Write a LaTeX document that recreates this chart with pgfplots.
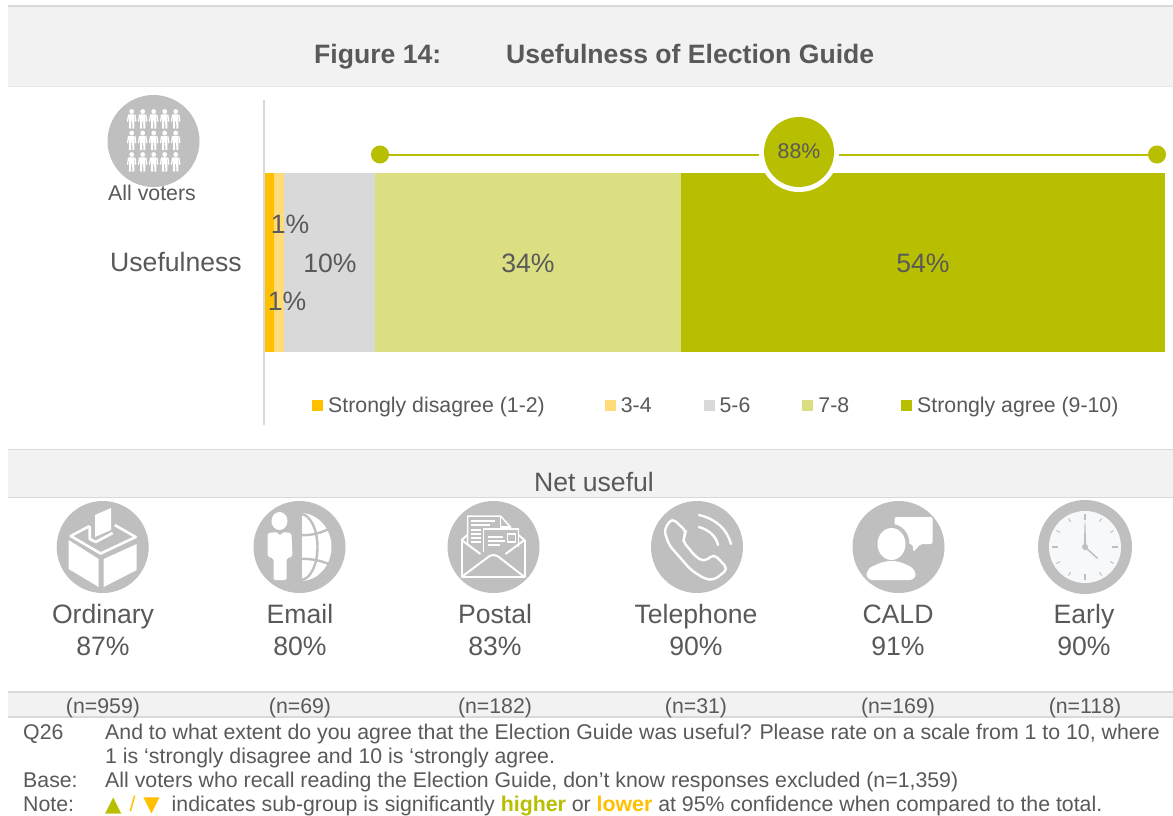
\documentclass[border=0pt]{standalone}
\usepackage{fontspec}
\setmainfont{Liberation Sans}
\newfontfamily\symf{DejaVu Sans}
\usepackage{pgfplots}
\pgfplotsset{compat=1.18}
\definecolor{txt}{HTML}{595959}
\definecolor{olive}{HTML}{B8BF00}
\definecolor{lolive}{HTML}{DBDF82}
\definecolor{orng}{HTML}{FFC000}
\definecolor{lorng}{HTML}{FFDB7A}
\definecolor{gr}{HTML}{D9D9D9}
\definecolor{band}{HTML}{F2F2F2}
\definecolor{icon}{HTML}{BFBFBF}
\definecolor{face}{HTML}{F7F8FA}
\newcommand{\fl}{\fontsize{26.6}{30}\selectfont}
\newcommand{\fm}{\fontsize{21.3}{25}\selectfont}
\pgfplotsset{overlay/.style={
  at={(0pt,-813pt)},anchor=south west,scale only axis,width=1173pt,height=813pt,
  xmin=0,xmax=1173,ymin=0,ymax=813,y dir=reverse,hide axis,clip=false}}
\pgfplotsset{lab/.style={draw=none,mark=none,point meta=explicit symbolic,
  nodes near coords,
  nodes near coords style={anchor=base,inner sep=0pt,text=txt,font=#1}}}
\begin{document}
\begin{tikzpicture}[x=1pt,y=-1pt]
\fill[white] (0,0) rectangle (1173,813);
% bands
\fill[band] (8,6) rectangle (1173,86);
\fill[gr] (8,5) rectangle (1173,7);
\fill[gr!60] (8,85.5) rectangle (1173,86.5);
\fill[band] (8,449) rectangle (1173,497);
\fill[gr] (8,448.5) rectangle (1173,450);
\fill[gr] (8,496.5) rectangle (1173,498);
\fill[band] (8,692) rectangle (1173,717);
\fill[gr] (8,691) rectangle (1173,693);
\fill[gr] (8,716) rectangle (1173,718);
\node[anchor=base west,inner sep=0pt,text=txt,font=\fl\bfseries] at (314,63) {Figure 14:};
\node[anchor=base west,inner sep=0pt,text=txt,font=\fl\bfseries] at (506,63) {Usefulness of Election Guide};
% main stacked bar
\begin{axis}[
  at={(264pt,-425pt)},anchor=south west,scale only axis,width=901pt,height=325pt,
  xbar stacked,bar width=179pt,bar shift=0pt,
  xmin=-0.1111,xmax=100,ymin=-1,ymax=1,
  axis x line=none,axis y line=left,
  axis line style={gr,line width=2pt,-},
  ytick={0},yticklabels={Usefulness},major tick length=0pt,
  yticklabel style={text=txt,font=\fl,inner sep=0pt,xshift=-22pt,yshift=1pt},
  legend columns=-1,
  legend style={at={(0.0535,0.0585)},anchor=west,draw=none,fill=none,
    font=\fm,text=txt,inner sep=0pt,outer sep=0pt,
    /tikz/every even column/.append style={column sep=50pt}},
  legend cell align=left,
  legend image code/.code={\path[#1,draw=none] (0pt,-5.5pt) rectangle (11pt,5.5pt);\path (14pt,0pt);},
]
\addplot[fill=orng,draw=none] coordinates {(1.0,0)};
\addplot[fill=lorng,draw=none] coordinates {(1.1,0)};
\addplot[fill=gr,draw=none] coordinates {(10.1,0)};
\addplot[fill=lolive,draw=none] coordinates {(34,0)};
\addplot[fill=olive,draw=none] coordinates {(53.8,0)};
\legend{Strongly disagree (1-2)\rule{8pt}{0pt},3-4,5-6,7-8,Strongly agree (9-10)}
\end{axis}
% bracket
\begin{axis}[overlay]
\addplot[olive,line width=2pt,mark=*,mark size=8pt,mark options={fill=olive,draw=none}] coordinates {(380,154.5) (1157,154.5)};
\end{axis}
\fill[white] (799,152) circle (40);
\fill[olive] (799,152) circle (35);
\node[text=txt,font=\fm,inner sep=0pt] at (799,151) {88\%};
% people icon
\fill[icon] (153.5,141) circle (46);
\foreach \cx in {131.7,142.7,153.7,164.7,175.7}
 \foreach \cy in {119,140.5,162}{
  \begin{scope}[shift={(\cx,\cy)}]
  \fill[white] (0,-7.5) circle (2.4);
  \fill[white] (-2.8,-4.6) -- (2.8,-4.6) -- (2.6,2) -- (-2.6,2) -- cycle;
  \draw[white,line width=1.3pt,line cap=round] (-3.2,-4) -- (-4.1,2.2) (3.2,-4) -- (4.1,2.2);
  \draw[white,line width=2.1pt] (-1.5,1) -- (-1.7,9.5) (1.5,1) -- (1.7,9.5);
  \end{scope}}
% ballot box
\begin{scope}[shift={(102.7,547)}]
\fill[icon] (0,0) circle (46);
\fill[white] (-34,-7) -- (-4,12) -- (-4,40) -- (-34,22) -- cycle;
\fill[white] (1,12) -- (34,-3) -- (34,23) -- (1,40) -- cycle;
\fill[white] (-7.7,-32) -- (8.3,-39) -- (8.3,-17) -- (-7.7,-10) -- cycle;
\draw[white,line width=2.6pt,line join=round] (-13,-21) -- (-32,-11) -- (-2,6.5) -- (33,-10) -- (12,-22);
\draw[white,line width=2.6pt,line join=round] (-13,-21) -- (-13,-8) -- (-7,-5) -- (10,-14);
\end{scope}
% email: person + globe
\begin{scope}[shift={(299.5,547)}]
\fill[icon] (0,0) circle (46);
\fill[white] (-20,-26) ellipse (8 and 9);
\fill[white,rounded corners=2pt] (-32,-14) -- (-22,-15) -- (-19.5,-11) -- (-17,-15) -- (-8,-14) -- (-7,10) -- (-13,11) -- (-13,33) -- (-26,33) -- (-26,11) -- (-32,10) -- cycle;
\fill[white] (1,-34) arc (-90:90:31 and 34) -- cycle;
\begin{scope}
\clip (1,-36) rectangle (36,36);
\draw[icon,line width=2.4pt] (1,0) ellipse (17 and 33);
\draw[icon,line width=2.4pt] (-2,-12) .. controls (12,-11) and (24,-14) .. (36,-22);
\draw[icon,line width=2.4pt] (-2,12) .. controls (12,11) and (24,14) .. (36,20);
\end{scope}
\fill[icon] (-1,-36) rectangle (2,36);
\end{scope}
% postal
\begin{scope}[shift={(493.5,547)},line join=round]
\fill[icon] (0,0) circle (46);
\draw[white,line width=1.5pt] (-26,-2) -- (-26,-31) -- (7,-31) -- (17,-20) -- (17,-18);
\draw[white,line width=1.5pt] (7,-31) -- (7,-20) -- (17,-20);
\draw[white,line width=1.5pt] (-23,-26) -- (1,-26) (-23,-22) -- (-4,-22);
\draw[white,line width=1.5pt] (-23,-17) -- (-13,-17) (-23,-13) -- (-13,-13) (-23,-9) -- (-13,-9) (-23,-5) -- (-13,-5);
\draw[white,line width=1.5pt] (-10,5) -- (-10,-18) -- (25,-18) -- (25,0);
\draw[white,line width=1.5pt] (14,-13) rectangle (22,-5);
\draw[white,line width=1.5pt] (-6,-10) -- (9,-10) (-6,-6) -- (11,-6) (-6,-2) -- (6,-2);
\draw[white,line width=2pt] (-32,-7) -- (-32,30) -- (31,30) -- (31,-7);
\draw[white,line width=2pt] (-32,30) -- (-4,9) -- (0,8) -- (4,9) -- (31,30);
\draw[white,line width=2pt] (-32,-7) -- (-13,7) (31,-7) -- (12,7);
\draw[white,line width=2pt] (-32,-7) -- (-26,-12) (31,-7) -- (25,-12);
\end{scope}
% telephone
\begin{scope}[shift={(697,547)}]
\fill[icon] (0,0) circle (46);
\draw[white,line width=2.4pt,rounded corners=5pt] (-25,-29) -- (-33,-17) -- (-28,-2) -- (-6,23) -- (8,32) -- (17,33) -- (31,22) -- (17,7) -- (7,15) -- (-2,9) -- (-15,-7) -- (-10,-15) -- cycle;
\draw[white,line width=2.4pt,line cap=round] (2,-32) .. controls (19,-28) and (30,-18) .. (34,-3);
\draw[white,line width=2.4pt,line cap=round] (2,-20) .. controls (12,-17) and (19,-11) .. (21,-2);
\end{scope}
% CALD
\begin{scope}[shift={(898.5,547)}]
\fill[icon] (0,0) circle (46);
\fill[white,rounded corners=2pt] (-4,-30) -- (34,-30) -- (34,-3) -- (22,-3) -- (15,5) -- (14,-3) -- (-4,-3) -- cycle;
\fill[icon] (-7,-3) ellipse (18 and 20);
\fill[white] (-7,-3) ellipse (14 and 16);
\fill[white,rounded corners=6pt] (-32,33) -- (-32,22) -- (-14,14) -- (0,14) -- (17,22) -- (17,33) -- cycle;
\end{scope}
% clock
\begin{scope}[shift={(1085,547)}]
\fill[icon] (0,0) circle (47);
\fill[face] (0,0) circle (36);
\foreach \a in {0,90,180,270} \draw[icon,line width=1.2pt] (\a:27) -- (\a:33);
\foreach \a in {30,60,120,150,210,240,300,330} \draw[icon,line width=1pt] (\a:29) -- (\a:33);
\fill[icon] (-1.2,0) -- (-0.4,-25) -- (0.4,-25) -- (1.2,0) -- cycle;
\draw[icon,line width=1.5pt] (0,0) -- (12.6,11.5);
\fill[icon] (0,0) circle (3);
\end{scope}
% all text labels
\begin{axis}[overlay]
\addplot[lab=\fl] coordinates {(330,272)[10\%] (528,272)[34\%] (923,272)[54\%] (290,233)[1\%] (287,310.5)[1\%]
 (594,491)[Net useful]
 (103,623.5)[Ordinary] (300,623.5)[Email] (495,623.5)[Postal] (696,623.5)[Telephone] (898,623.5)[CALD] (1084,623.5)[Early]
 (103,655)[87\%] (300,655)[80\%] (495,655)[83\%] (696,655)[90\%] (898,655)[91\%] (1084,655)[90\%]};
\addplot[lab=\fm] coordinates {(152,200)[All voters]
 (103,713.5)[(n=959)] (300,713.5)[(n=69)] (495,713.5)[(n=182)] (696,713.5)[(n=31)] (898,713.5)[(n=169)] (1085,713.5)[(n=118)]};
\end{axis}
% footer
\begin{scope}[every node/.style={anchor=base west,inner sep=0pt,text=txt,font=\fm}]
\node at (23,739) {Q26};
\node at (105,739) {And to what extent do you agree that the Election Guide was useful? Please rate on a scale from 1 to 10, where};
\node at (105,763) {1 is ‘strongly disagree and 10 is ‘strongly agree.};
\node at (23,787) {Base:};
\node at (105,787) {All voters who recall reading the Election Guide, don’t know responses excluded (n=1,359)};
\node at (23,811) {Note:};
\node at (105,811) {{\symf\color{olive}▲}\hspace{8pt}{\color{orng}/}\hspace{8pt}{\symf\color{orng}▼} \ indicates sub-group is significantly {\bfseries\color{olive}higher} or {\bfseries\color{orng}lower} at 95\% confidence when compared to the total.};
\end{scope}
\end{tikzpicture}
\end{document}
